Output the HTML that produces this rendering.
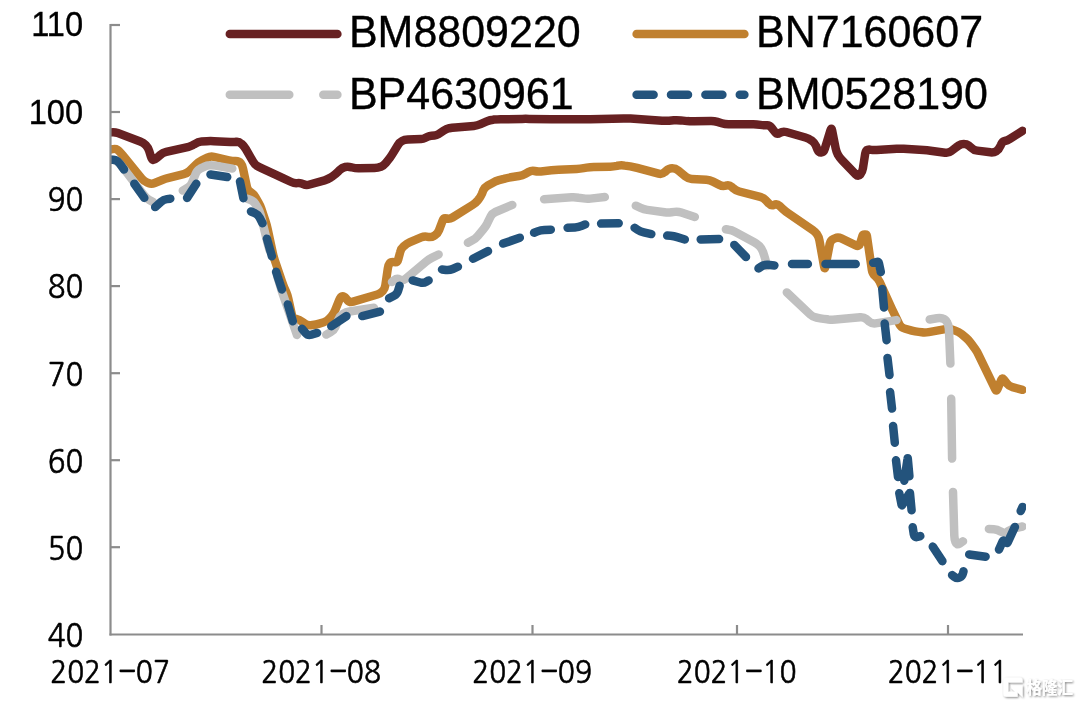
<!DOCTYPE html>
<html lang="zh"><head><meta charset="utf-8"><title>chart</title>
<style>
html,body{margin:0;padding:0;background:#fff;}
body{width:1080px;height:705px;overflow:hidden;position:relative;}
svg{position:absolute;left:0;top:0;display:block;}
.lg{font-family:"Liberation Sans",sans-serif;font-size:43px;fill:#000;stroke:#000;stroke-width:0.35px;}
.ya{font-family:"Liberation Sans",sans-serif;font-size:32.6px;fill:#000;stroke:#000;stroke-width:0.3px;}
.yc{font-family:"NanumGothic","Noto Sans CJK SC","Liberation Sans",sans-serif;font-size:31.4px;fill:#000;stroke:#000;stroke-width:0.6px;}
.xc{font-family:"NanumGothic","Noto Sans CJK SC","Liberation Sans",sans-serif;font-size:31.3px;fill:#000;stroke:#000;stroke-width:0.6px;}
.hy{font-family:"NanumGothic","Liberation Sans",sans-serif;stroke-width:0.3px;}
.wm{font-family:"Liberation Sans","Noto Sans CJK SC",sans-serif;font-weight:700;font-size:16.5px;fill:#fff;}
.ln{fill:none;stroke-width:8.5;stroke-linecap:round;stroke-linejoin:round;}
</style></head>
<body>
<svg width="1080" height="705" viewBox="0 0 1080 705">
<rect width="1080" height="705" fill="#fff"/>
<clipPath id="plot"><rect x="110" y="20" width="916" height="614"/></clipPath>
<g clip-path="url(#plot)">
<path class="ln" stroke="#672122" d="M106.0,133.2 L111.0,132.4 Q114.5,131.9 117.8,133.1 L140.2,141.5 Q143.5,142.7 145.8,145.2 L145.8,145.2 Q148.2,147.7 149.2,151.0 L150.9,156.6 Q151.9,159.9 153.2,160.1 L153.2,160.1 Q154.4,160.2 157.0,157.9 L160.2,155.0 Q162.8,152.7 166.2,151.9 L188.7,146.8 Q192.1,146.0 194.9,143.9 L195.1,143.9 Q197.9,141.8 201.4,141.6 L207.0,141.2 Q210.5,141.0 214.0,141.2 L230.4,142.0 Q233.9,142.2 236.4,141.8 L236.4,141.8 Q239.0,141.5 241.5,143.8 L241.5,143.8 Q244.0,146.0 245.8,149.0 L253.1,161.6 Q254.9,164.6 256.6,165.6 L256.6,165.6 Q258.2,166.6 261.4,168.1 L277.1,175.3 Q280.3,176.8 283.5,178.3 L291.3,182.0 Q294.5,183.5 297.4,183.1 L297.4,183.1 Q300.4,182.7 303.3,184.1 L303.3,184.1 Q306.2,185.5 309.6,184.5 L324.6,180.3 Q328.0,179.3 330.9,177.4 L332.6,176.2 Q335.5,174.3 338.0,171.8 L339.7,170.1 Q342.2,167.6 345.1,167.0 L345.1,167.0 Q348.1,166.4 351.5,167.3 L352.2,167.5 Q355.6,168.4 359.1,168.3 L374.5,168.0 Q378.0,167.9 380.8,166.8 L380.8,166.8 Q383.5,165.6 385.8,162.9 L388.1,160.1 Q390.4,157.4 392.2,154.4 L397.8,145.2 Q399.6,142.2 402.0,141.0 L402.0,141.0 Q404.3,139.8 407.8,139.6 L421.2,139.0 Q423.2,138.9 425.0,138.0 L427.6,136.7 Q429.4,135.8 431.4,135.7 L434.6,135.5 Q436.6,135.4 438.3,134.3 L443.5,130.8 Q446.4,128.8 449.2,128.2 L449.2,128.2 Q452.0,127.7 455.5,127.4 L473.8,125.9 Q477.3,125.6 480.5,124.2 L486.8,121.3 Q490.0,119.9 493.5,119.7 L493.7,119.6 Q497.2,119.4 500.7,119.3 L522.2,118.9 Q525.7,118.8 529.2,118.9 L551.5,119.2 Q555.0,119.3 558.5,119.3 L583.4,119.3 Q586.9,119.3 590.4,119.2 L623.5,118.5 Q627.0,118.4 630.5,118.6 L662.1,120.7 Q665.6,120.9 669.1,120.7 L673.8,120.3 Q677.3,120.1 680.8,120.4 L687.2,121.1 Q690.7,121.4 694.2,121.3 L710.6,121.0 Q714.1,120.9 717.4,121.9 L721.7,123.3 Q725.0,124.3 728.5,124.3 L753.4,124.3 Q756.9,124.3 760.2,124.9 L760.2,124.9 Q763.6,125.5 766.5,125.2 L766.5,125.2 Q769.4,124.8 771.5,127.6 L774.9,132.0 Q777.0,134.8 779.9,132.9 L779.9,132.9 Q782.8,131.0 786.2,132.0 L805.4,137.5 Q808.8,138.5 811.6,140.6 L811.8,140.6 Q814.6,142.7 816.0,145.9 L817.4,149.5 Q818.8,152.7 821.3,152.4 L821.3,152.4 Q823.8,152.2 824.8,148.8 L830.4,130.4 Q831.4,127.0 832.1,130.4 L835.7,148.5 Q836.4,151.9 838.0,154.9 L838.0,154.9 Q839.7,157.8 842.1,160.3 L855.8,174.5 Q858.2,177.0 860.3,174.5 L860.3,174.5 Q862.4,172.0 862.9,168.5 L865.2,153.7 Q865.7,150.2 867.4,149.8 L867.4,149.8 Q869.1,149.4 871.2,149.8 L871.2,149.8 Q873.2,150.2 876.7,150.0 L896.7,148.8 Q900.2,148.6 903.7,148.8 L923.5,150.0 Q927.0,150.2 930.5,150.7 L945.2,152.7 Q948.7,153.2 951.4,151.0 L956.1,147.4 Q958.8,145.2 961.3,144.3 L961.3,144.3 Q963.8,143.5 966.3,144.3 L966.3,144.3 Q968.8,145.2 971.3,147.7 L971.3,147.7 Q973.8,150.2 977.3,150.6 L990.4,152.3 Q993.9,152.7 996.5,151.1 L996.5,151.1 Q999.0,149.4 1000.3,146.2 L1001.0,144.7 Q1002.3,141.5 1004.8,141.0 L1004.8,141.0 Q1007.3,140.5 1010.3,138.6 L1022.5,130.8"/>
<path class="ln" stroke="#c0802f" d="M106.0,150.5 L111.1,149.4 Q114.5,148.6 116.0,149.1 L116.0,149.1 Q117.5,149.6 119.0,151.1 L119.0,151.1 Q120.5,152.5 122.7,155.2 L141.8,178.6 Q144.0,181.3 147.2,182.6 L148.3,183.0 Q151.5,184.3 154.7,183.0 L162.1,180.0 Q165.3,178.7 168.7,177.9 L183.7,174.1 Q187.1,173.3 189.6,170.9 L196.3,164.3 Q198.8,161.9 201.9,160.3 L207.4,157.6 Q210.5,156.0 213.9,156.8 L228.9,160.3 Q232.3,161.1 235.7,161.1 L235.7,161.1 Q239.0,161.1 240.7,163.2 L240.7,163.2 Q242.3,165.3 243.0,168.7 L246.9,186.8 Q247.6,190.2 250.6,192.1 L250.6,192.1 Q253.5,193.9 255.3,196.9 L258.4,202.3 Q260.2,205.3 261.3,208.6 L265.8,222.1 Q266.9,225.4 267.6,228.8 L272.9,253.3 Q273.6,256.7 274.7,260.0 L282.1,281.9 Q283.2,285.2 284.6,288.4 L286.2,292.0 Q287.6,295.2 288.3,298.6 L291.9,314.8 Q292.6,318.2 296.0,319.0 L296.2,319.0 Q299.6,319.8 302.4,321.9 L304.5,323.5 Q307.3,325.6 310.8,325.2 L312.5,325.0 Q316.0,324.6 319.3,323.6 L323.8,322.2 Q327.1,321.2 329.4,318.6 L331.5,316.2 Q333.8,313.6 335.1,310.4 L339.2,300.1 Q340.5,296.9 342.2,296.4 L342.2,296.4 Q343.9,296.0 346.2,298.6 L347.4,300.1 Q349.7,302.7 353.1,301.7 L377.3,294.5 Q380.7,293.5 382.8,291.0 L382.8,291.0 Q384.9,288.5 385.4,285.0 L387.8,268.6 Q388.3,265.1 389.6,263.4 L389.6,263.4 Q390.8,261.7 394.1,262.1 L394.1,262.1 Q397.5,262.6 398.3,259.2 L400.2,252.0 Q401.0,248.6 403.7,246.3 L404.1,245.9 Q406.8,243.6 410.0,242.2 L421.2,237.4 Q424.4,236.0 427.8,236.8 L427.8,236.8 Q431.1,237.7 434.1,235.8 L434.8,235.4 Q437.8,233.5 439.0,230.2 L442.5,220.9 Q443.7,217.6 446.6,218.4 L446.6,218.4 Q449.5,219.3 452.5,217.5 L472.5,205.0 Q475.5,203.2 477.7,200.5 L478.3,199.8 Q480.5,197.1 481.9,193.9 L483.3,190.3 Q484.7,187.1 487.8,185.4 L492.5,182.9 Q495.6,181.2 499.0,180.2 L503.9,178.9 Q507.3,177.9 510.8,177.3 L518.9,176.0 Q522.4,175.4 525.5,173.7 L528.5,172.0 Q531.6,170.3 534.5,171.0 L534.5,171.0 Q537.4,171.7 540.9,171.4 L551.5,170.3 Q555.0,170.0 558.5,169.8 L576.7,168.9 Q580.2,168.7 583.7,168.1 L586.7,167.6 Q590.2,167.0 593.7,166.9 L610.2,166.7 Q613.7,166.6 617.1,165.9 L617.8,165.7 Q621.2,165.0 624.7,165.6 L630.2,166.4 Q633.7,167.0 637.1,167.9 L658.6,173.7 Q662.0,174.6 664.6,172.2 L666.3,170.7 Q668.9,168.3 672.2,168.3 L672.2,168.3 Q675.6,168.3 678.3,170.5 L685.5,176.5 Q688.2,178.7 691.7,178.9 L706.4,179.8 Q709.9,180.0 713.0,181.6 L719.4,184.9 Q722.5,186.5 725.9,185.6 L725.9,185.6 Q729.2,184.6 731.8,186.9 L733.3,188.3 Q735.9,190.6 739.3,191.5 L760.2,196.9 Q763.6,197.8 765.9,200.4 L768.8,203.5 Q771.1,206.1 774.0,204.8 L774.0,204.8 Q777.0,203.5 779.6,205.9 L782.7,208.8 Q785.3,211.2 788.2,213.2 L812.6,229.9 Q815.5,231.9 817.1,234.4 L817.1,234.4 Q818.8,236.9 819.4,240.3 L824.1,266.6 Q824.7,270.0 825.4,266.6 L829.8,243.6 Q830.5,240.2 833.7,238.8 L834.9,238.3 Q838.1,236.9 841.3,238.4 L855.8,245.4 Q859.0,246.9 860.1,243.6 L862.5,235.8 Q863.0,234.4 864.5,234.4 L865.2,234.4 Q866.7,234.4 866.9,235.9 L871.9,270.2 Q872.4,273.7 875.1,276.0 L875.6,276.4 Q878.3,278.7 879.7,281.9 L889.1,302.8 Q890.5,306.0 892.0,309.1 L899.5,324.5 Q901.0,327.6 904.4,328.5 L911.8,330.6 Q915.2,331.5 918.7,331.9 L921.8,332.3 Q925.3,332.7 928.7,332.1 L945.3,329.1 Q948.7,328.5 952.0,329.6 L955.5,330.7 Q958.8,331.8 961.5,334.1 L966.1,337.9 Q968.8,340.2 970.8,343.0 L975.2,349.1 Q977.2,351.9 978.7,355.1 L995.3,389.3 Q996.4,391.6 997.4,389.3 L1001.5,379.4 Q1002.3,377.6 1003.5,379.2 L1006.8,383.4 Q1009.0,386.2 1012.4,387.1 L1022.5,389.8"/>
<path class="ln" stroke="#c0c0c0" d="M106.0,160.5 L110.0,160.0 Q113.5,159.5 115.8,160.5 L115.8,160.5 Q118.0,161.5 120.2,164.2 L123.2,168.0 Q125.4,170.7 127.5,173.5 L144.1,195.4 Q146.2,198.2 149.3,199.9 L153.0,202.0 M182.8,190.6 L187.8,187.6 Q190.8,185.8 192.1,182.6 L195.8,173.5 Q197.1,170.3 200.2,168.7 L204.0,166.9 Q207.1,165.3 209.6,165.2 L209.6,165.2 Q212.0,165.0 215.4,165.6 L232.3,168.6 M247.3,198.7 L250.7,200.0 Q254.0,201.3 255.7,204.4 L258.3,208.9 Q260.0,212.0 260.8,215.4 L266.7,239.6 Q267.5,243.0 268.5,246.4 L269.5,250.0 M277.5,277.0 L281.0,288.6 Q282.0,292.0 283.2,295.3 L297.0,335.0 M326.3,334.6 L330.7,332.1 Q333.8,330.4 335.2,327.2 L338.6,319.2 Q340.0,316.0 342.9,314.1 L343.1,313.9 Q346.0,312.0 349.5,311.5 L374.0,307.8 M392.0,282.0 L394.4,280.0 Q396.8,278.0 399.9,279.5 L399.9,279.5 Q403.0,281.0 405.7,278.7 L425.9,261.8 Q428.6,259.5 431.7,257.9 L438.6,254.5 M467.9,242.7 L472.4,240.3 Q475.5,238.6 477.8,235.9 L483.2,229.5 Q485.5,226.8 487.1,223.7 L490.6,216.5 Q492.2,213.4 495.4,212.0 L512.3,204.9 M544.1,199.2 L571.6,197.3 Q575.1,197.1 578.6,197.7 L583.4,198.4 Q586.9,199.0 590.4,198.6 L604.8,197.1 M635.8,205.7 L640.6,207.9 Q643.8,209.4 647.3,209.9 L664.5,212.3 Q668.0,212.8 671.5,212.3 L674.5,211.9 Q678.0,211.4 681.3,212.5 L694.8,217.0 M725.9,229.3 L728.8,229.8 Q731.7,230.2 734.8,231.8 L753.8,242.0 Q756.9,243.6 759.4,246.1 L759.4,246.1 Q761.9,248.6 763.0,251.9 L764.1,255.3 Q765.2,258.6 766.0,262.0 L767.0,266.0 M786.8,292.4 L810.2,314.5 Q812.7,316.9 816.1,317.5 L820.2,318.3 Q823.6,318.9 827.1,319.3 L828.4,319.5 Q831.9,319.9 835.4,319.6 L860.2,317.2 Q863.7,316.9 866.4,319.1 L869.4,321.7 Q872.1,323.9 875.6,323.4 L896.5,320.1 M929.7,319.5 L936.9,318.3 Q940.4,317.8 942.9,318.6 L942.9,318.6 Q945.4,319.3 947.0,322.2 L947.0,322.2 Q948.7,325.1 948.9,328.6 L950.4,363.6 M951.2,398.8 L952.1,458.6 M953.0,491.9 L954.3,535.5 Q954.4,539.0 955.5,542.2 L955.5,542.2 Q956.6,545.5 959.5,543.6 L963.0,541.3 M988.9,528.9 L993.8,529.2 Q997.3,529.4 1000.3,531.3 L1001.0,531.7 Q1004.0,533.6 1007.0,531.9 L1009.0,530.7 Q1012.0,529.0 1015.4,528.2 L1022.5,526.5"/>
<path class="ln" stroke="#23537c" d="M106.0,160.5 L110.0,159.9 Q113.5,159.3 115.8,160.2 L115.8,160.2 Q118.0,161.0 120.0,163.9 L124.0,169.5 M134.3,183.7 L144.3,197.9 M155.2,207.1 L161.0,201.9 Q163.6,199.6 166.9,199.1 L170.3,198.7 M187.1,197.9 L196.3,183.7 M210.5,174.5 L227.2,177.0 M240.0,181.5 L243.4,198.2 M251.0,211.5 L254.8,213.1 Q258.0,214.5 259.6,217.6 L262.5,223.3 M266.9,238.7 L271.9,256.3 M276.1,271.8 L281.9,289.4 M287.8,304.4 L292.8,321.2 M302.0,328.7 L305.6,333.0 Q307.9,335.7 311.2,334.7 L317.1,332.9 M331.3,326.2 L346.4,316.1 M362.3,316.1 L379.9,311.6 M389.1,298.3 L394.0,295.7 Q397.1,294.1 398.1,290.7 L399.6,285.7 M412.7,280.4 L420.2,282.5 Q423.6,283.4 426.1,281.9 L428.6,280.4 M442.0,269.5 L446.0,270.0 Q449.5,270.4 452.7,269.0 L457.9,266.7 M473.0,258.7 L488.0,251.1 M503.1,243.6 L519.8,237.7 M534.1,232.7 L537.5,231.4 Q540.8,230.2 544.3,230.0 L550.8,229.7 M567.6,227.8 L575.0,227.5 Q578.5,227.3 581.7,225.9 L585.2,224.4 M601.1,223.6 L618.7,223.2 M634.6,227.8 L637.5,229.7 Q640.4,231.6 643.8,232.4 L651.3,234.1 M667.2,235.6 L670.5,235.8 Q673.9,236.1 677.2,237.1 L684.8,239.5 M700.7,239.5 L719.1,239.0 M734.3,244.9 L746.0,257.0 M758.5,268.4 L761.5,266.4 Q764.4,264.5 767.9,264.8 L774.4,265.4 M792.0,264.0 L807.9,264.0 M825.5,264.0 L855.7,264.0 M873.2,262.8 L877.1,261.9 Q878.6,261.6 878.9,263.1 L880.8,272.0 M882.3,289.0 L884.0,307.5 M884.7,323.5 L886.6,340.2 M887.5,357.9 L889.5,375.0 M890.1,392.1 L892.0,408.6 M893.1,426.0 L894.8,442.7 M896.0,460.3 L898.0,477.0 M904.3,480.7 L907.6,458.6 Q907.7,457.8 907.8,458.6 L909.4,476.2 M899.3,493.2 L901.6,505.0 Q901.8,505.8 902.2,505.1 L909.5,493.3 Q909.9,492.6 910.0,493.4 L911.6,510.3 M912.7,527.2 L913.8,534.3 Q914.4,537.8 917.3,537.0 L920.3,536.1 M932.8,546.6 L942.4,561.2 M952.1,575.1 L954.6,577.0 Q957.1,578.8 959.6,577.5 L959.6,577.5 Q962.1,576.3 962.8,573.8 L963.5,571.3 M969.2,554.5 L985.6,556.7 M999.0,549.5 L1002.8,541.0 Q1003.1,540.3 1003.8,540.8 L1006.6,542.8 Q1007.3,543.3 1007.6,542.6 L1014.9,526.9 M1020.7,511.0 L1022.5,507.0"/>
</g>
<g stroke="#8c8c8c" stroke-width="2.2" fill="none">
<path d="M110.5,24.0 V635.5"/>
<path d="M109.5,634.5 H1023"/>
<path d="M110.5,25.0 h9.5"/>
<path d="M110.5,112.0 h9.5"/>
<path d="M110.5,199.1 h9.5"/>
<path d="M110.5,286.1 h9.5"/>
<path d="M110.5,373.2 h9.5"/>
<path d="M110.5,460.2 h9.5"/>
<path d="M110.5,547.2 h9.5"/>
<path d="M321.5,634.5 v-9.5"/>
<path d="M532.5,634.5 v-9.5"/>
<path d="M737,634.5 v-9.5"/>
<path d="M948,634.5 v-9.5"/>
</g>
<path class="ln" stroke="#672122" d="M229.8,34 H337.4"/>
<path class="ln" stroke="#c0802f" d="M636.6,34 H744.4"/>
<path class="ln" stroke="#c0c0c0" stroke-dasharray="59.5 34" d="M229.8,94.8 H337.4"/>
<path class="ln" stroke="#23537c" stroke-dasharray="17 17.4" d="M636.6,94.8 H744.4"/>
<text class="lg" transform="translate(348.9,47.3) scale(1,1.035)">BM8809220</text>
<text class="lg" transform="translate(756.0,47.3) scale(1,1.035)">BN7160607</text>
<text class="lg" transform="translate(348.9,108.5) scale(1,1.035)">BP4630961</text>
<text class="lg" transform="translate(756.0,108.5) scale(1,1.035)">BM0528190</text>
<text class="ya" transform="translate(83.1,36.3) scale(1,1.05)" text-anchor="end">110</text>
<text class="ya" transform="translate(83.1,123.8) scale(1,1.05)" text-anchor="end">100</text>
<text class="yc" x="47.8" y="211.4" textLength="35.6" lengthAdjust="spacingAndGlyphs">90</text>
<text class="yc" x="47.8" y="298.4" textLength="35.6" lengthAdjust="spacingAndGlyphs">80</text>
<text class="yc" x="47.8" y="385.5" textLength="35.6" lengthAdjust="spacingAndGlyphs">70</text>
<text class="yc" x="47.8" y="472.5" textLength="35.6" lengthAdjust="spacingAndGlyphs">60</text>
<text class="yc" x="47.8" y="559.5" textLength="35.6" lengthAdjust="spacingAndGlyphs">50</text>
<text class="yc" x="47.8" y="646.6" textLength="35.6" lengthAdjust="spacingAndGlyphs">40</text>
<text class="xc" y="683.2"><tspan x="50.2" textLength="67.8" lengthAdjust="spacingAndGlyphs">2021</tspan><tspan class="hy" x="116.8" dy="0" textLength="20.6" lengthAdjust="spacingAndGlyphs">-</tspan><tspan x="135.8" dy="0" textLength="34.2" lengthAdjust="spacingAndGlyphs">07</tspan></text>
<text class="xc" y="683.2"><tspan x="261.2" textLength="67.8" lengthAdjust="spacingAndGlyphs">2021</tspan><tspan class="hy" x="327.8" dy="0" textLength="20.6" lengthAdjust="spacingAndGlyphs">-</tspan><tspan x="346.8" dy="0" textLength="34.2" lengthAdjust="spacingAndGlyphs">08</tspan></text>
<text class="xc" y="683.2"><tspan x="472.2" textLength="67.8" lengthAdjust="spacingAndGlyphs">2021</tspan><tspan class="hy" x="538.8" dy="0" textLength="20.6" lengthAdjust="spacingAndGlyphs">-</tspan><tspan x="557.8" dy="0" textLength="34.2" lengthAdjust="spacingAndGlyphs">09</tspan></text>
<text class="xc" y="683.2"><tspan x="676.7" textLength="67.8" lengthAdjust="spacingAndGlyphs">2021</tspan><tspan class="hy" x="743.3" dy="0" textLength="20.6" lengthAdjust="spacingAndGlyphs">-</tspan><tspan x="762.3" dy="0" textLength="34.2" lengthAdjust="spacingAndGlyphs">10</tspan></text>
<text class="xc" y="683.2"><tspan x="887.7" textLength="67.8" lengthAdjust="spacingAndGlyphs">2021</tspan><tspan class="hy" x="954.3" dy="0" textLength="20.6" lengthAdjust="spacingAndGlyphs">-</tspan><tspan x="973.3" dy="0" textLength="34.2" lengthAdjust="spacingAndGlyphs">11</tspan></text>
<filter id="sh" filterUnits="userSpaceOnUse" x="995" y="670" width="85" height="35"><feGaussianBlur in="SourceAlpha" stdDeviation="0.9" result="b"/><feOffset in="b" dx="0.7" dy="0.7" result="o"/><feComponentTransfer in="o" result="s"><feFuncA type="linear" slope="0.5"/></feComponentTransfer><feMerge><feMergeNode in="s"/><feMergeNode in="SourceGraphic"/></feMerge></filter>
<g filter="url(#sh)">
<path fill="#fff" d="M1006.5,677.4 H1019.4 A3.2,3.2 0 0 1 1022.6,680.6 V682.4 H1008.3 V691.7 H1014.8 L1011.2,688.1 V685.2 H1022.6 V697.2 L1017.6,692.4 V696.7 H1006.5 A3.2,3.2 0 0 1 1003.3,693.5 V680.6 A3.2,3.2 0 0 1 1006.5,677.4 Z"/>
<text class="wm" x="1026.5" y="693.6" textLength="46.5" lengthAdjust="spacingAndGlyphs">格隆汇</text>
</g>
</svg>
</body></html>
